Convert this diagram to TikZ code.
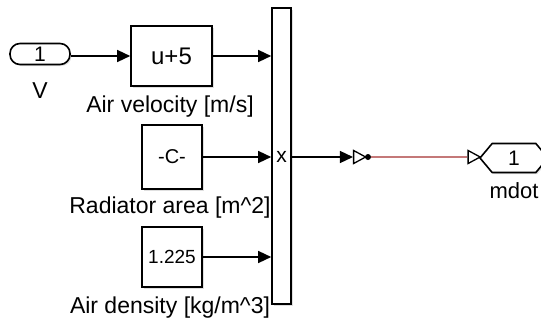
\documentclass[tikz,border=0pt]{standalone}
\usepackage{fontspec}
\setmainfont{Liberation Sans}
\usetikzlibrary{arrows.meta,shapes.geometric,shapes.symbols,shadows}
\definecolor{wirered}{RGB}{196,120,120}
\definecolor{shadowgray}{RGB}{150,150,150}

\begin{document}
\begin{tikzpicture}[x=1pt, y=-1pt,
    shade/.style={drop shadow={opacity=0.3, shadow xshift=1.5pt, shadow yshift=-1.5pt, fill=shadowgray}},
    blk/.style={draw, line width=1.6pt, fill=white, inner sep=0pt, shade},
    port/.style={blk, rounded corners=10pt, minimum width=60pt, minimum height=21pt,
                 font=\fontsize{21}{22}\selectfont},
    outport/.style={draw, line width=1.6pt, fill=white, signal, signal to=west and east,
                    signal pointer angle=100, minimum width=68pt, minimum height=29pt,
                    inner sep=0pt, font=\fontsize{21}{22}\selectfont, shade},
    lbl/.style={font=\fontsize{23}{26}\selectfont, inner sep=0pt},
    sig/.style={line width=1.4pt, -{Triangle[length=13pt, width=12pt]}},
    opentri/.style={draw, line width=1.3pt, isosceles triangle, isosceles triangle stretches,
                    minimum width=13pt, minimum height=12pt, inner sep=0pt, fill=white}
  ]
    \useasboundingbox (0,0) rectangle (541,324);

    \node[port] (in) at (40,54) {1};
    \node[lbl] (inlbl) at (40,91) {V};

    \node[blk, minimum width=81pt, minimum height=60pt, font=\fontsize{24}{26}\selectfont] (fcn) at (171.5,56) {u+5};
    \node[lbl] (fcnlbl) at (170,107) {Air velocity [m/s]};
    \node[blk, minimum width=60pt, minimum height=64pt, font=\fontsize{20}{22}\selectfont] (area) at (172,157) {-C-};
    \node[lbl] (arealbl) at (170,208) {Radiator area [m\^{}2]};
    \node[blk, minimum width=60pt, minimum height=60pt, font=\fontsize{19}{21}\selectfont] (rho) at (172,257) {1.225};
    \node[lbl] (rholbl) at (170,308) {Air density [kg/m\^{}3]};

    \node[blk, minimum width=19pt, minimum height=296pt] (mux) at (281.5,156) {};
    \node[font=\fontsize{21}{22}\selectfont, inner sep=0pt] (muxlbl) at (281.5,157) {x};

    \node[opentri] (tri1) at (357.5,157) {};
    \node[circle, fill, inner sep=0pt, minimum size=6pt] (dot) at (368,157) {};
    \node[opentri] (tri2) at (472,157) {};
    \node[outport] (out) at (514,158) {1};
    \node[lbl, font=\fontsize{22}{24}\selectfont] (outlbl) at (514,191) {mdot};

    \draw[sig] (in.east |- 0,56) -- (fcn.west);
    \draw[sig] (fcn.east) -- (fcn.east -| mux.west);
    \draw[sig] (area.east) -- (area.east -| mux.west);
    \draw[sig] (rho.east) -- (rho.east -| mux.west);
    \draw[sig] (mux.east |- tri1) -- (tri1.west);
    \draw[line width=1.2pt, wirered] (dot) -- (tri2.west);
  \end{tikzpicture}
\end{document}
